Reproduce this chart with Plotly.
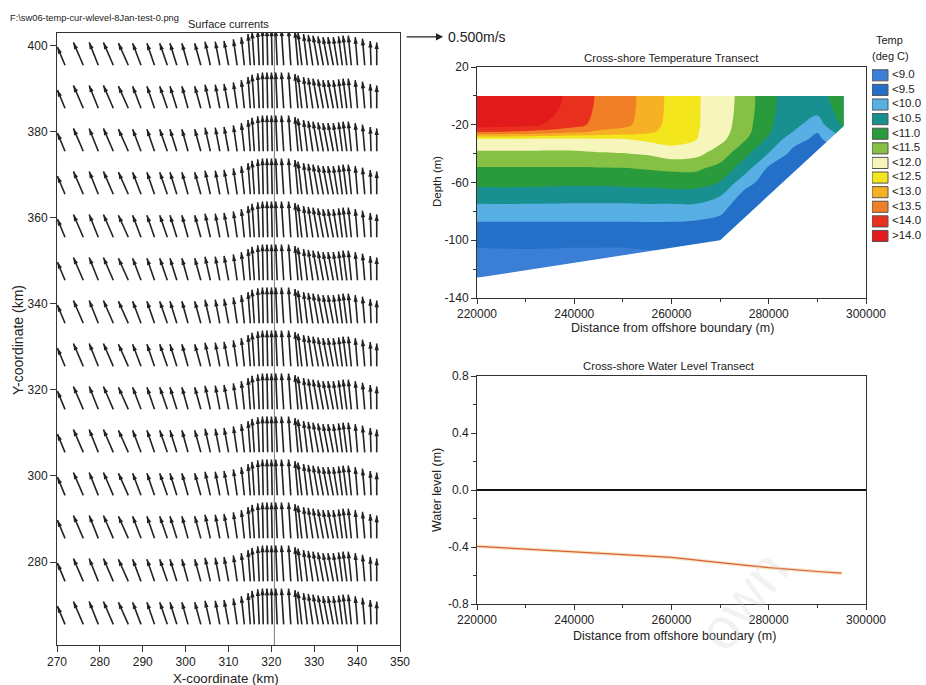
import math
import plotly.graph_objects as go

W, H = 926, 685
FONT = "Liberation Sans"
INK = "#222222"

# ---------------- Surface currents (quiver) ----------------
col_x_km = [271.87, 276.13, 279.63, 283.13, 286.63, 289.59, 292.74, 295.73, 297.94, 300.55,
            303.54, 305.76, 307.97, 310.02, 312.01, 313.69, 315.08, 316.02, 317.16, 318.09,
            319.14, 320.19, 321.36, 322.87, 324.53, 326.21, 327.10, 328.38, 329.66, 330.95,
            332.11, 333.28, 334.44, 335.49, 336.54, 337.59, 338.64, 340.09, 341.77, 343.24, 344.57]
u_ms = [-0.10, -0.13, -0.12, -0.13, -0.13, -0.11, -0.10, -0.10, -0.09, -0.08,
        -0.08, -0.07, -0.06, -0.06, -0.05, -0.04, -0.03, -0.03, -0.02, -0.01,
        -0.01, -0.01, -0.02, -0.03, -0.03, -0.04, -0.05, -0.05, -0.06, -0.07,
        -0.07, -0.07, -0.07, -0.06, -0.05, -0.05, -0.04, -0.03, -0.03, -0.01, 0.00]
v_ms = [0.24, 0.30, 0.30, 0.30, 0.29, 0.29, 0.29, 0.29, 0.29, 0.29,
        0.29, 0.31, 0.31, 0.32, 0.34, 0.37, 0.41, 0.44, 0.46, 0.47,
        0.47, 0.47, 0.47, 0.47, 0.47, 0.45, 0.43, 0.41, 0.40, 0.39,
        0.38, 0.37, 0.37, 0.37, 0.38, 0.39, 0.39, 0.37, 0.35, 0.32, 0.30]
row_y_km = [395.5, 385.5, 375.5, 365.5, 355.5, 345.5, 335.5, 325.5,
            315.5, 305.5, 295.5, 285.5, 275.5, 265.5]
transect_x_km = 320.7
ref_speed_ms = 0.5
km_per_ms = 17.7          # arrow scale of the plot
qx_range = [270, 350]
qy_range = [260.7, 403.0]
qx_ticks = [270, 280, 290, 300, 310, 320, 330, 340, 350]
qy_ticks = [280, 300, 320, 340, 360, 380, 400]

# ---------------- Temperature transect ----------------
dist_m = [220000, 230000, 240000, 245000, 250000, 255000, 260000, 265000,
          270000, 275000, 280000, 285000, 290000, 295400]
depth_m = [0, -10, -20, -25, -30, -40, -50, -60, -70, -80, -90, -100, -113, -126]
# rows = depth, columns = distance
temp_c = [
    [14.80, 14.50, 13.85, 13.43, 13.25, 12.80, 12.37, 12.05, 11.80, 11.30, 10.63, 10.25, 10.30, 10.80],
    [14.60, 14.40, 13.80, 13.40, 13.22, 12.80, 12.36, 12.05, 11.79, 11.28, 10.62, 10.22, 10.12, 10.75],
    [14.30, 14.15, 13.70, 13.30, 13.15, 12.75, 12.33, 12.05, 11.77, 11.22, 10.58, 10.12, 9.78, 10.60],
    [13.50, 13.40, 13.10, 12.90, 12.80, 12.60, 12.30, 12.04, 11.73, 11.18, 10.55, 9.99, 9.52, 10.30],
    [11.90, 11.90, 11.90, 11.95, 11.98, 12.10, 12.20, 12.02, 11.65, 11.06, 10.40, 9.70, 9.38, 9.98],
    [11.40, 11.40, 11.40, 11.45, 11.48, 11.55, 11.75, 11.65, 11.25, 10.65, 9.98, 9.35, 9.30, 9.45],
    [10.97, 10.97, 10.97, 10.98, 10.99, 11.05, 11.10, 11.10, 10.85, 10.25, 9.42, 9.25, 9.20, 9.30],
    [10.63, 10.63, 10.60, 10.60, 10.62, 10.65, 10.70, 10.70, 10.48, 9.70, 9.25, 9.15, 9.10, 9.20],
    [10.22, 10.22, 10.20, 10.20, 10.20, 10.22, 10.23, 10.23, 9.98, 9.30, 9.15, 9.10, 9.05, 9.10],
    [9.76, 9.76, 9.75, 9.75, 9.75, 9.77, 9.75, 9.75, 9.58, 9.15, 9.10, 9.05, 9.05, 9.05],
    [9.40, 9.40, 9.40, 9.40, 9.40, 9.40, 9.40, 9.35, 9.30, 9.10, 9.05, 9.05, 9.05, 9.05],
    [9.13, 9.13, 9.10, 9.10, 9.10, 9.10, 9.10, 9.05, 9.10, 9.05, 9.05, 9.05, 9.05, 9.05],
    [8.80, 8.85, 8.85, 8.85, 8.85, 8.90, 8.90, 8.90, 9.05, 9.05, 9.05, 9.05, 9.05, 9.05],
    [8.60, 8.70, 8.70, 8.70, 8.70, 8.80, 8.80, 8.80, 9.05, 9.05, 9.05, 9.05, 9.05, 9.05],
]
bottom_dist_m = [220000, 270000, 295400]
bottom_depth_m = [-126, -100, -21]
temp_labels = ["<9.0", "<9.5", "<10.0", "<10.5", "<11.0", "<11.5",
               "<12.0", "<12.5", "<13.0", "<13.5", "<14.0", ">14.0"]
temp_colors = ["#3a7fd5", "#2470c8", "#58afe4", "#17908f", "#2a9b3c", "#86c146",
               "#f6f6bc", "#f3e61c", "#f6b023", "#f07f25", "#e9301f", "#e31a1c"]
temp_x_ticks = [220000, 240000, 260000, 280000, 300000]
temp_y_ticks = [20, -20, -60, -100, -140]

# ---------------- Water level transect ----------------
wl_dist_m = [220000, 230000, 240000, 250000, 260000, 270000, 280000, 290000, 295000]
wl_m = [-0.395, -0.415, -0.430, -0.452, -0.473, -0.510, -0.545, -0.572, -0.584]
wl_y_ticks = [0.8, 0.4, 0.0, -0.4, -0.8]

# ---------------- layout geometry (pixels) ----------------
def px_dom_x(a, b):
    return [a / W, b / W]

def px_dom_y(top, bottom):
    return [1 - bottom / H, 1 - top / H]

q_dx = px_dom_x(57, 400)
q_dy = px_dom_y(33, 645)
t_dx = px_dom_x(477, 866)
t_dy = px_dom_y(67, 298)
w_dx = px_dom_x(477, 866)
w_dy = px_dom_y(376, 604)
l_dx = px_dom_x(872, 926)
l_dy = px_dom_y(68, 243.3)

fig = go.Figure()

# ---- quiver ----
sx, sy, hx, hy, ang = [], [], [], [], []
for y0 in row_y_km:
    for x0, u, v in zip(col_x_km, u_ms, v_ms):
        x1 = x0 + u * km_per_ms
        y1 = y0 + v * km_per_ms
        sx += [x0, x1, None]
        sy += [y0, y1, None]
        hx.append(x1)
        hy.append(y1)
        ang.append(math.degrees(math.atan2(u, v)))

fig.add_trace(go.Scatter(x=[transect_x_km, transect_x_km], y=qy_range, mode="lines",
                         line=dict(color="#777777", width=1), xaxis="x", yaxis="y",
                         hoverinfo="skip", showlegend=False))
fig.add_trace(go.Scatter(x=sx, y=sy, mode="lines", line=dict(color=INK, width=1.6),
                         xaxis="x", yaxis="y", hoverinfo="skip", showlegend=False))
fig.add_trace(go.Scatter(x=hx, y=hy, mode="markers",
                         marker=dict(symbol="arrow", size=7, color=INK, angle=ang,
                                     line=dict(width=0)),
                         xaxis="x", yaxis="y", hoverinfo="skip", showlegend=False))

# ---- temperature contour ----
cscale = []
n = len(temp_colors)
for i, c in enumerate(temp_colors):
    cscale.append([i / n, c])
    cscale.append([(i + 1) / n, c])
fig.add_trace(go.Contour(x=dist_m, y=depth_m, z=temp_c, xaxis="x2", yaxis="y2",
                         colorscale=cscale, showscale=False,
                         contours=dict(start=9.0, end=14.0, size=0.5, coloring="fill",
                                       showlines=False),
                         line=dict(width=0, smoothing=1), hoverinfo="skip"))

# ---- water level ----
fig.add_trace(go.Scatter(x=wl_dist_m, y=wl_m, mode="lines", xaxis="x3", yaxis="y3",
                         line=dict(color="#f3d39a", width=3.5), hoverinfo="skip",
                         showlegend=False, opacity=0.6))
fig.add_trace(go.Scatter(x=wl_dist_m, y=wl_m, mode="lines", xaxis="x3", yaxis="y3",
                         line=dict(color="#d9603a", width=1.2), hoverinfo="skip",
                         showlegend=False))

# ---- temperature legend ----
idx = list(range(len(temp_labels)))
fig.add_trace(go.Bar(x=[1] * len(idx), y=idx, base=0, orientation="h", width=0.76,
                     marker=dict(color=temp_colors, line=dict(color="#555555", width=1)),
                     xaxis="x4", yaxis="y4", hoverinfo="skip", showlegend=False))
fig.add_trace(go.Scatter(x=[1.25] * len(idx), y=idx, mode="text", text=temp_labels,
                         textposition="middle right",
                         textfont=dict(family=FONT, size=11.5, color=INK),
                         xaxis="x4", yaxis="y4", hoverinfo="skip", showlegend=False,
                         cliponaxis=False))

# mask outside of the sea-bottom outline
bx, bz = bottom_dist_m, bottom_depth_m
mask = (f"M {bx[0]},{bz[0]} L {bx[1]},{bz[1]} L {bx[2]},{bz[2]} "
        f"L {bx[2] + 700},{bz[2]} L {bx[2] + 700},{bz[0] - 1.5} L {bx[0]},{bz[0] - 1.5} Z")
fig.add_shape(type="path", path=mask, xref="x2", yref="y2", fillcolor="white",
              line=dict(width=0), layer="above")

axis_common = dict(showgrid=False, showline=True, linecolor="#333333", automargin=False,
                   linewidth=1, mirror=True, ticks="outside", tickcolor="#333333",
                   tickfont=dict(family=FONT, size=12, color=INK))

fig.update_layout(
    width=W, height=H, margin=dict(l=0, r=0, t=0, b=0, pad=0, autoexpand=False),
    paper_bgcolor="white", plot_bgcolor="white", showlegend=False,
    font=dict(family=FONT, color=INK),
    xaxis=dict(domain=q_dx, range=qx_range, tickvals=qx_ticks, zeroline=False,
               ticktext=[str(t) for t in qx_ticks], ticklen=6, anchor="y", **axis_common),
    yaxis=dict(domain=q_dy, range=qy_range, tickvals=qy_ticks, zeroline=False,
               ticktext=[str(t) for t in qy_ticks], ticklen=6, anchor="x", **axis_common),
    xaxis2=dict(domain=t_dx, range=[220000, 300000], tickvals=temp_x_ticks, zeroline=False,
                ticktext=[str(t) for t in temp_x_ticks], ticklen=5, anchor="y2",
                minor=dict(tickvals=[230000, 250000, 270000, 290000], ticks="outside",
                           ticklen=3, tickcolor="#333333"), **axis_common),
    yaxis2=dict(domain=t_dy, range=[-140, 20], tickvals=temp_y_ticks, zeroline=False,
                ticktext=[str(t) for t in temp_y_ticks], ticklen=5, anchor="x2",
                minor=dict(tickvals=[0, -40, -80, -120], ticks="outside", ticklen=3,
                           tickcolor="#333333"), **axis_common),
    xaxis3=dict(domain=w_dx, range=[220000, 300000], tickvals=temp_x_ticks, zeroline=False,
                ticktext=[str(t) for t in temp_x_ticks], ticklen=5, anchor="y3",
                minor=dict(tickvals=[230000, 250000, 270000, 290000], ticks="outside",
                           ticklen=3, tickcolor="#333333"), **axis_common),
    yaxis3=dict(domain=w_dy, range=[-0.8, 0.8], tickvals=wl_y_ticks,
                ticktext=[f"{t:.1f}" for t in wl_y_ticks], ticklen=5, anchor="x3",
                zeroline=True, zerolinecolor="#111111", zerolinewidth=1.5,
                minor=dict(tickvals=[0.6, 0.2, -0.2, -0.6], ticks="outside", ticklen=3,
                           tickcolor="#333333"), **axis_common),
    xaxis4=dict(domain=l_dx, range=[0, 54 / 16], visible=False, anchor="y4",
                fixedrange=True, automargin=False),
    yaxis4=dict(domain=l_dy, range=[len(idx) - 0.5, -0.5], visible=False, anchor="x4",
                fixedrange=True, automargin=False),
)


def ann(text, px, py, size, angle=0, xanchor="center", color=INK):
    fig.add_annotation(text=text, x=px / W, y=1 - py / H, xref="paper", yref="paper",
                       showarrow=False, textangle=angle, xanchor=xanchor, yanchor="middle",
                       font=dict(family=FONT, size=size, color=color))


ann("F:\\sw06-temp-cur-wlevel-8Jan-test-0.png", 8, 18, 9.3, xanchor="left")
ann("Surface currents", 228, 24, 11)
ann("Y-coordinate (km)", 18, 340, 14, angle=-90)
ann("X-coordinate (km)", 226, 678, 13.3)
ann("Cross-shore Temperature Transect", 671, 58, 11.3)
ann("Depth (m)", 437, 182, 11.5, angle=-90)
ann("Distance from offshore boundary (m)", 672, 328, 12.5)
ann("Cross-shore Water Level Transect", 669, 366, 11.3)
ann("Water level (m)", 437, 490, 12.5, angle=-90)
ann("Distance from offshore boundary (m)", 674, 636, 12.5)
ann("Temp", 889, 40, 11)
ann("(deg C)", 890, 56, 11)
ann("own", 742, 600, 58, angle=-52, color="rgba(210,210,210,0.28)")

# reference arrow (0.500 m/s), placed through the quiver axis scale
def q_paper_x(xkm):
    return q_dx[0] + (xkm - qx_range[0]) / (qx_range[1] - qx_range[0]) * (q_dx[1] - q_dx[0])

def q_paper_y(ykm):
    return q_dy[0] + (ykm - qy_range[0]) / (qy_range[1] - qy_range[0]) * (q_dy[1] - q_dy[0])

px_per_km = (q_dx[1] - q_dx[0]) * W / (qx_range[1] - qx_range[0])
ref_x0_km, ref_y_km = 351.2, 402.1
ref_len_km = ref_speed_ms * km_per_ms
ref_x1_km = ref_x0_km + ref_len_km
fig.add_annotation(x=q_paper_x(ref_x1_km), y=q_paper_y(ref_y_km),
                   ax=-ref_len_km * px_per_km, ay=0,
                   xref="paper", yref="paper", axref="pixel", ayref="pixel",
                   text="", showarrow=True, arrowhead=2, arrowsize=1.1, arrowwidth=1.3,
                   arrowcolor=INK)
fig.add_annotation(x=q_paper_x(ref_x1_km), y=q_paper_y(ref_y_km), xref="paper",
                   yref="paper", text=f"{ref_speed_ms:.3f}m/s", showarrow=False,
                   xanchor="left", yanchor="middle", xshift=3,
                   font=dict(family=FONT, size=14, color=INK))

fig.write_html("out.html",
               post_script="document.body.style.margin='0px';"
                           "document.body.style.overflow='hidden';")
